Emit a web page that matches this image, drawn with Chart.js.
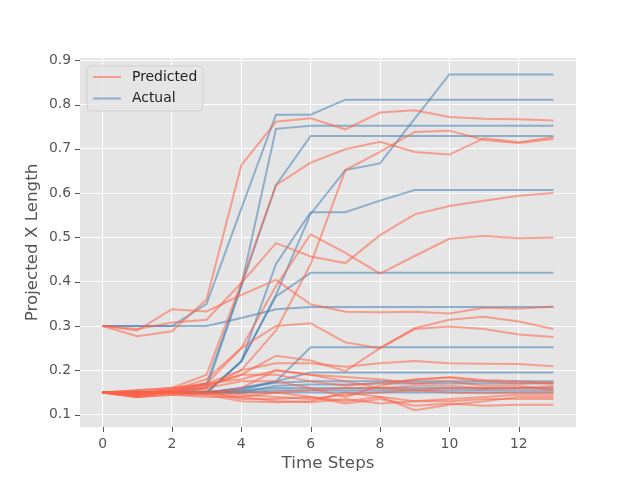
<!DOCTYPE html>
<html>
<head>
    <title>Projected X Length</title>
    <style>
        body {
            margin: 0;
            background: #ffffff;
        }
    </style>
</head>
<body>
    <canvas id="chart" width="640" height="480"></canvas>

    <script src="https://cdn.jsdelivr.net/npm/chart.js"></script>
    <script>
        var timeSteps = [0, 1, 2, 3, 4, 5, 6, 7, 8, 9, 10, 11, 12, 13];
        var xTicks = [0, 2, 4, 6, 8, 10, 12];
        var yTicks = [0.1, 0.2, 0.3, 0.4, 0.5, 0.6, 0.7, 0.8, 0.9];
        var legendLabels = ['Predicted', 'Actual'];

        // one row per run
        var predicted = [
            [0.3, 0.277, 0.288, 0.36, 0.663, 0.761, 0.769, 0.744, 0.782, 0.787, 0.772, 0.768, 0.767, 0.764],
            [0.3, 0.293, 0.308, 0.314, 0.397, 0.618, 0.669, 0.699, 0.716, 0.693, 0.687, 0.724, 0.715, 0.726],
            [0.3, 0.29, 0.338, 0.333, 0.37, 0.404, 0.349, 0.332, 0.331, 0.332, 0.328, 0.341, 0.339, 0.344],
            [0.15, 0.155, 0.16, 0.19, 0.397, 0.487, 0.457, 0.442, 0.505, 0.552, 0.571, 0.583, 0.594, 0.6],
            [0.15, 0.145, 0.155, 0.17, 0.25, 0.39, 0.507, 0.465, 0.418, 0.458, 0.497, 0.503, 0.498, 0.5],
            [0.15, 0.145, 0.15, 0.16, 0.2, 0.29, 0.44, 0.652, 0.693, 0.738, 0.741, 0.72, 0.713, 0.722],
            [0.15, 0.145, 0.155, 0.18, 0.25, 0.3, 0.306, 0.263, 0.25, 0.293, 0.299, 0.293, 0.281, 0.275],
            [0.15, 0.14, 0.15, 0.165, 0.19, 0.233, 0.222, 0.198, 0.25, 0.295, 0.314, 0.321, 0.31, 0.293],
            [0.15, 0.14, 0.155, 0.17, 0.2, 0.216, 0.216, 0.208, 0.216, 0.221, 0.216, 0.215, 0.214, 0.209],
            [0.15, 0.14, 0.145, 0.145, 0.13, 0.128, 0.13, 0.15, 0.14, 0.11, 0.122, 0.13, 0.14, 0.14],
            [0.15, 0.145, 0.15, 0.15, 0.135, 0.135, 0.14, 0.125, 0.135, 0.12, 0.125, 0.12, 0.122, 0.122],
            [0.15, 0.15, 0.155, 0.16, 0.175, 0.175, 0.16, 0.14, 0.165, 0.18, 0.183, 0.175, 0.17, 0.173],
            [0.15, 0.145, 0.16, 0.165, 0.19, 0.19, 0.175, 0.165, 0.172, 0.178, 0.185, 0.178, 0.175, 0.17],
            [0.15, 0.148, 0.15, 0.15, 0.145, 0.14, 0.135, 0.145, 0.15, 0.155, 0.16, 0.158, 0.16, 0.165],
            [0.15, 0.152, 0.152, 0.155, 0.15, 0.15, 0.155, 0.16, 0.16, 0.165, 0.165, 0.16, 0.16, 0.16],
            [0.15, 0.14, 0.145, 0.14, 0.14, 0.13, 0.128, 0.135, 0.125, 0.13, 0.135, 0.14, 0.145, 0.145],
            [0.15, 0.15, 0.148, 0.145, 0.16, 0.2, 0.19, 0.185, 0.18, 0.17, 0.175, 0.165, 0.165, 0.155],
            [0.15, 0.145, 0.15, 0.148, 0.14, 0.15, 0.14, 0.13, 0.14, 0.13, 0.13, 0.135, 0.135, 0.135],
            [0.15, 0.155, 0.16, 0.17, 0.18, 0.2, 0.19, 0.175, 0.16, 0.155, 0.15, 0.148, 0.15, 0.15]
        ];

        var actual = [
            [0.15, 0.15, 0.15, 0.15, 0.22, 0.37, 0.553, 0.652, 0.667, 0.768, 0.868, 0.868, 0.868, 0.868],
            [0.3, 0.3, 0.3, 0.35, 0.565, 0.777, 0.777, 0.811, 0.811, 0.811, 0.811, 0.811, 0.811, 0.811],
            [0.15, 0.15, 0.15, 0.17, 0.39, 0.745, 0.752, 0.752, 0.752, 0.752, 0.752, 0.752, 0.752, 0.752],
            [0.15, 0.15, 0.15, 0.16, 0.39, 0.618, 0.729, 0.729, 0.729, 0.729, 0.729, 0.729, 0.729, 0.729],
            [0.15, 0.15, 0.15, 0.15, 0.22, 0.44, 0.557, 0.557, 0.583, 0.607, 0.607, 0.607, 0.607, 0.607],
            [0.15, 0.15, 0.15, 0.15, 0.22, 0.367, 0.42, 0.42, 0.42, 0.42, 0.42, 0.42, 0.42, 0.42],
            [0.3, 0.3, 0.3, 0.3, 0.318, 0.338, 0.343, 0.343, 0.343, 0.343, 0.343, 0.343, 0.343, 0.343],
            [0.15, 0.15, 0.15, 0.15, 0.155, 0.175, 0.252, 0.252, 0.252, 0.252, 0.252, 0.252, 0.252, 0.252],
            [0.15, 0.15, 0.15, 0.15, 0.16, 0.175, 0.195, 0.195, 0.195, 0.195, 0.195, 0.195, 0.195, 0.195],
            [0.15, 0.15, 0.15, 0.15, 0.15, 0.15, 0.15, 0.15, 0.15, 0.15, 0.15, 0.15, 0.15, 0.15],
            [0.15, 0.15, 0.15, 0.15, 0.155, 0.16, 0.16, 0.16, 0.16, 0.16, 0.16, 0.16, 0.16, 0.16],
            [0.15, 0.15, 0.15, 0.15, 0.15, 0.165, 0.168, 0.168, 0.17, 0.17, 0.17, 0.17, 0.17, 0.17],
            [0.15, 0.15, 0.15, 0.15, 0.16, 0.172, 0.175, 0.175, 0.175, 0.175, 0.175, 0.175, 0.175, 0.175],
            [0.15, 0.15, 0.15, 0.15, 0.15, 0.155, 0.155, 0.155, 0.155, 0.155, 0.155, 0.155, 0.155, 0.155]
        ];

        var predColor = 'rgba(255, 99, 71, 0.55)';
        var actColor = 'rgba(70, 130, 180, 0.55)';
        var font = 'DejaVu Sans';

        function toPoints(row) {
            return row.map(function (v, i) { return { x: timeSteps[i], y: v }; });
        }

        var datasets = [];
        predicted.forEach(function (row) {
            datasets.push({ label: legendLabels[0], data: toPoints(row), borderColor: predColor, borderWidth: 2, pointRadius: 0, tension: 0 });
        });
        actual.forEach(function (row) {
            datasets.push({ label: legendLabels[1], data: toPoints(row), borderColor: actColor, borderWidth: 2, pointRadius: 0, tension: 0 });
        });

        // grey plot background, ggplot style
        var backdrop = {
            id: 'backdrop',
            beforeDraw: function (chart) {
                var a = chart.chartArea, c = chart.ctx;
                c.save();
                c.fillStyle = '#e5e5e5';
                c.fillRect(a.left, a.top, a.right - a.left, a.bottom - a.top);
                c.restore();
            }
        };

        // outward grey tick marks
        var tickMarks = {
            id: 'tickMarks',
            afterDraw: function (chart) {
                var a = chart.chartArea, c = chart.ctx;
                var xs = chart.scales.x, ys = chart.scales.y;
                c.save();
                c.strokeStyle = '#555555';
                c.lineWidth = 1;
                c.beginPath();
                xTicks.forEach(function (v) {
                    var p = Math.round(xs.getPixelForValue(v)) + 0.5;
                    c.moveTo(p, a.bottom);
                    c.lineTo(p, a.bottom + 5);
                });
                yTicks.forEach(function (v) {
                    var p = Math.round(ys.getPixelForValue(v)) + 0.5;
                    c.moveTo(a.left, p);
                    c.lineTo(a.left - 5, p);
                });
                c.stroke();
                c.restore();
            }
        };

        // legend box in the upper left corner of the plot
        var boxLegend = {
            id: 'boxLegend',
            afterDatasetsDraw: function (chart) {
                var a = chart.chartArea, c = chart.ctx;
                var x = a.left + 7, y = a.top + 8, w = 116, h = 45;
                c.save();
                c.beginPath();
                c.roundRect(x, y, w, h, 4);
                c.fillStyle = 'rgba(229, 229, 229, 0.8)';
                c.fill();
                c.strokeStyle = 'rgba(204, 204, 204, 0.8)';
                c.lineWidth = 1;
                c.stroke();
                var colors = [predColor, actColor];
                legendLabels.forEach(function (label, i) {
                    var ly = y + 11 + i * 21.5;
                    c.strokeStyle = colors[i];
                    c.lineWidth = 2;
                    c.beginPath();
                    c.moveTo(x + 6, ly);
                    c.lineTo(x + 34, ly);
                    c.stroke();
                    c.fillStyle = '#222222';
                    c.font = '13.9px "' + font + '"';
                    c.textBaseline = 'middle';
                    c.fillText(label, x + 45, ly);
                });
                c.restore();
            }
        };

        var ctx = document.getElementById('chart').getContext('2d');
        var chart = new Chart(ctx, {
            type: 'line',
            data: { datasets: datasets },
            plugins: [backdrop, tickMarks, boxLegend],
            options: {
                responsive: false,
                animation: false,
                devicePixelRatio: 1,
                layout: { padding: { left: 0, top: 58, right: 64, bottom: 0 } },
                plugins: {
                    legend: { display: false },
                    tooltip: { enabled: false }
                },
                scales: {
                    x: {
                        type: 'linear',
                        min: -0.65,
                        max: 13.65,
                        afterBuildTicks: function (s) {
                            s.ticks = xTicks.map(function (v) { return { value: v }; });
                        },
                        afterFit: function (s) { s.height = 53; },
                        grid: { color: '#ffffff', lineWidth: 1, drawTicks: false },
                        border: { display: false },
                        ticks: {
                            padding: 9,
                            color: '#555555',
                            font: { family: font, size: 13.9 },
                            maxRotation: 0,
                            callback: function (v) { return String(v); }
                        },
                        title: {
                            display: true,
                            text: 'Time Steps',
                            color: '#555555',
                            font: { family: font, size: 16.7 },
                            padding: { top: 0, bottom: 6 }
                        }
                    },
                    y: {
                        min: 0.072,
                        max: 0.905,
                        afterBuildTicks: function (s) {
                            s.ticks = yTicks.map(function (v) { return { value: v }; });
                        },
                        afterFit: function (s) { s.width = 80; },
                        grid: { color: '#ffffff', lineWidth: 1, drawTicks: false },
                        border: { display: false },
                        ticks: {
                            padding: 9,
                            color: '#555555',
                            font: { family: font, size: 13.9 },
                            callback: function (v) { return Number(v).toFixed(1); }
                        },
                        title: {
                            display: true,
                            text: 'Projected X Length',
                            color: '#555555',
                            font: { family: font, size: 16.7 },
                            padding: { top: 23, bottom: 0 }
                        }
                    }
                }
            }
        });
    </script>
</body>
</html>
